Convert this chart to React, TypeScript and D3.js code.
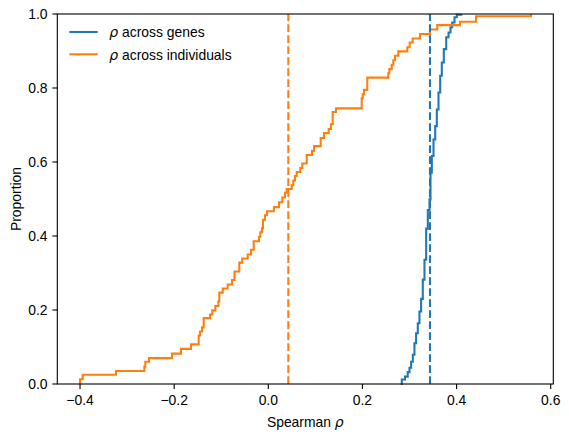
import React from "react";
import * as d3 from "d3";

// ---- data ----
const xTickValues = [-0.4, -0.2, 0.0, 0.2, 0.4, 0.6];
const yTickValues = [0.0, 0.2, 0.4, 0.6, 0.8, 1.0];

// ECDF of rho across individuals: value at which the curve jumps, and the proportion after the jump
const indivX = [
  -0.4, -0.3943, -0.3236, -0.2634, -0.2613, -0.2535, -0.2046, -0.1855, -0.1642, -0.1479,
  -0.1451, -0.1409, -0.1372, -0.1239, -0.119, -0.1126, -0.1062, -0.1041, -0.0969, -0.0863,
  -0.0771, -0.0718, -0.0616, -0.0554, -0.0438, -0.0368, -0.031, -0.0198, -0.017, -0.0134,
  -0.0113, -0.007, -0.0028, 0.0121, 0.0227, 0.0297, 0.0355, 0.0391, 0.0497, 0.0531,
  0.0567, 0.0603, 0.068, 0.0722, 0.0816, 0.0928, 0.0971, 0.1113, 0.1183, 0.1283,
  0.1332, 0.1368, 0.1438, 0.1984, 0.2006, 0.2033, 0.2103, 0.2549, 0.2571, 0.2622,
  0.2656, 0.2692, 0.2762, 0.2953, 0.3004, 0.3068, 0.3223, 0.3435, 0.359, 0.4073,
  0.4413, 0.5581,
];
const indivP = [
  0.013, 0.025, 0.035, 0.047, 0.06, 0.07, 0.082, 0.095, 0.107, 0.131,
  0.142, 0.153, 0.178, 0.188, 0.199, 0.211, 0.223, 0.247, 0.258, 0.269,
  0.281, 0.304, 0.328, 0.339, 0.35, 0.363, 0.386, 0.398, 0.41, 0.421,
  0.444, 0.456, 0.467, 0.478, 0.491, 0.504, 0.517, 0.527, 0.537, 0.55,
  0.562, 0.573, 0.584, 0.596, 0.619, 0.63, 0.643, 0.665, 0.678, 0.689,
  0.702, 0.735, 0.745, 0.772, 0.783, 0.795, 0.828, 0.84, 0.851, 0.863,
  0.875, 0.887, 0.899, 0.91, 0.923, 0.934, 0.946, 0.958, 0.97, 0.979,
  0.994, 1.0,
];

// ECDF of rho across genes (read as quantile points)
const geneX = [
  0.2815, 0.2836, 0.2904, 0.2962, 0.3, 0.3034, 0.307, 0.3105, 0.314, 0.3176,
  0.3211, 0.3247, 0.3282, 0.3318, 0.3354, 0.3389, 0.3425, 0.3446, 0.3474, 0.351,
  0.3546, 0.358, 0.3616, 0.3652, 0.3686, 0.3729, 0.378, 0.3829, 0.3871, 0.3907,
  0.3956, 0.4005, 0.41,
];
const geneP = [
  0.0, 0.012, 0.02, 0.032, 0.044, 0.06, 0.079, 0.11, 0.137, 0.164,
  0.196, 0.23, 0.282, 0.336, 0.42, 0.47, 0.499, 0.571, 0.616, 0.661,
  0.697, 0.742, 0.788, 0.833, 0.869, 0.905, 0.937, 0.95, 0.964, 0.977,
  0.991, 0.998, 1.0,
];

const medianIndiv = 0.0425;
const medianGenes = 0.3435;

const seriesNames = ["across genes", "across individuals"];
const BLUE = "#1f77b4";
const ORANGE = "#ff7f0e";

const W = 569;
const H = 437;
const L = 57.3, R = 553.3, T = 14, B = 384;
const FONT = "'Liberation Sans', Arial, Helvetica, sans-serif";
const FS = 13.9;

export default function App() {
  const x = d3.scaleLinear().domain([-0.4483, 0.6055]).range([L, R]);
  const y = d3.scaleLinear().domain([0, 1]).range([B, T]);

  const line = d3
    .line<[number, number]>()
    .x((d) => x(d[0]))
    .y((d) => y(d[1]))
    .curve(d3.curveStepAfter);

  const indivPts: [number, number][] = [[indivX[0], 0], ...indivX.map((v, i) => [v, indivP[i]] as [number, number])];
  const genePts: [number, number][] = geneX.map((v, i) => [v, geneP[i]] as [number, number]);

  const fmt = (v: number) => (v < 0 ? "\u2212" : "") + Math.abs(v).toFixed(1);
  const lw = 2.08;
  const dash = "7.7,3.3";

  return (
    <svg
      width={W}
      height={H}
      style={{ position: "absolute", left: 0, top: 0, background: "#fff" }}
      fontFamily={FONT}
    >
      <rect x={0} y={0} width={W} height={H} fill="#fff" />
      <defs>
        <clipPath id="plotclip">
          <rect x={L} y={T - 2} width={R - L} height={B - T + 4} />
        </clipPath>
      </defs>

      <g clipPath="url(#plotclip)">
        <path d={line(genePts) || ""} fill="none" stroke={BLUE} strokeWidth={lw} strokeLinejoin="miter" />
        <path d={line(indivPts) || ""} fill="none" stroke={ORANGE} strokeWidth={lw} strokeLinejoin="miter" />
        <line x1={x(medianGenes)} x2={x(medianGenes)} y1={B} y2={T} stroke={BLUE} strokeWidth={lw} strokeDasharray={dash} />
        <line x1={x(medianIndiv)} x2={x(medianIndiv)} y1={B} y2={T} stroke={ORANGE} strokeWidth={lw} strokeDasharray={dash} />
      </g>

      {/* spines */}
      <rect x={L} y={T} width={R - L} height={B - T} fill="none" stroke="#000" strokeWidth={1.1} />

      {/* x ticks */}
      {xTickValues.map((v) => (
        <g key={"xt" + v}>
          <line x1={x(v)} x2={x(v)} y1={B} y2={B + 4.9} stroke="#000" strokeWidth={1.1} />
          <text x={x(v)} y={B + 20.5} textAnchor="middle" fontSize={FS} fill="#000">
            {fmt(v)}
          </text>
        </g>
      ))}
      {/* y ticks */}
      {yTickValues.map((v) => (
        <g key={"yt" + v}>
          <line x1={L - 4.9} x2={L} y1={y(v)} y2={y(v)} stroke="#000" strokeWidth={1.1} />
          <text x={L - 9.7} y={y(v) + 5} textAnchor="end" fontSize={FS} fill="#000">
            {v.toFixed(1)}
          </text>
        </g>
      ))}

      {/* axis labels */}
      <text x={(L + R) / 2} y={426.5} textAnchor="middle" fontSize={FS} fill="#000">
        Spearman <tspan fontStyle="italic" fontFamily="'DejaVu Sans', sans-serif">ρ</tspan>
      </text>
      <text
        transform={`translate(${20.5},${(T + B) / 2}) rotate(-90)`}
        textAnchor="middle"
        fontSize={FS}
        fill="#000"
      >
        Proportion
      </text>

      {/* legend */}
      {seriesNames.map((name, i) => {
        const ly = 32 + i * 22.3;
        return (
          <g key={name}>
            <line x1={69.3} x2={97.7} y1={ly} y2={ly} stroke={i === 0 ? BLUE : ORANGE} strokeWidth={lw} />
            <text x={109.3} y={ly + 5.2} fontSize={FS} fill="#000">
              <tspan fontStyle="italic" fontFamily="'DejaVu Sans', sans-serif">ρ</tspan> {name}
            </text>
          </g>
        );
      })}
    </svg>
  );
}
